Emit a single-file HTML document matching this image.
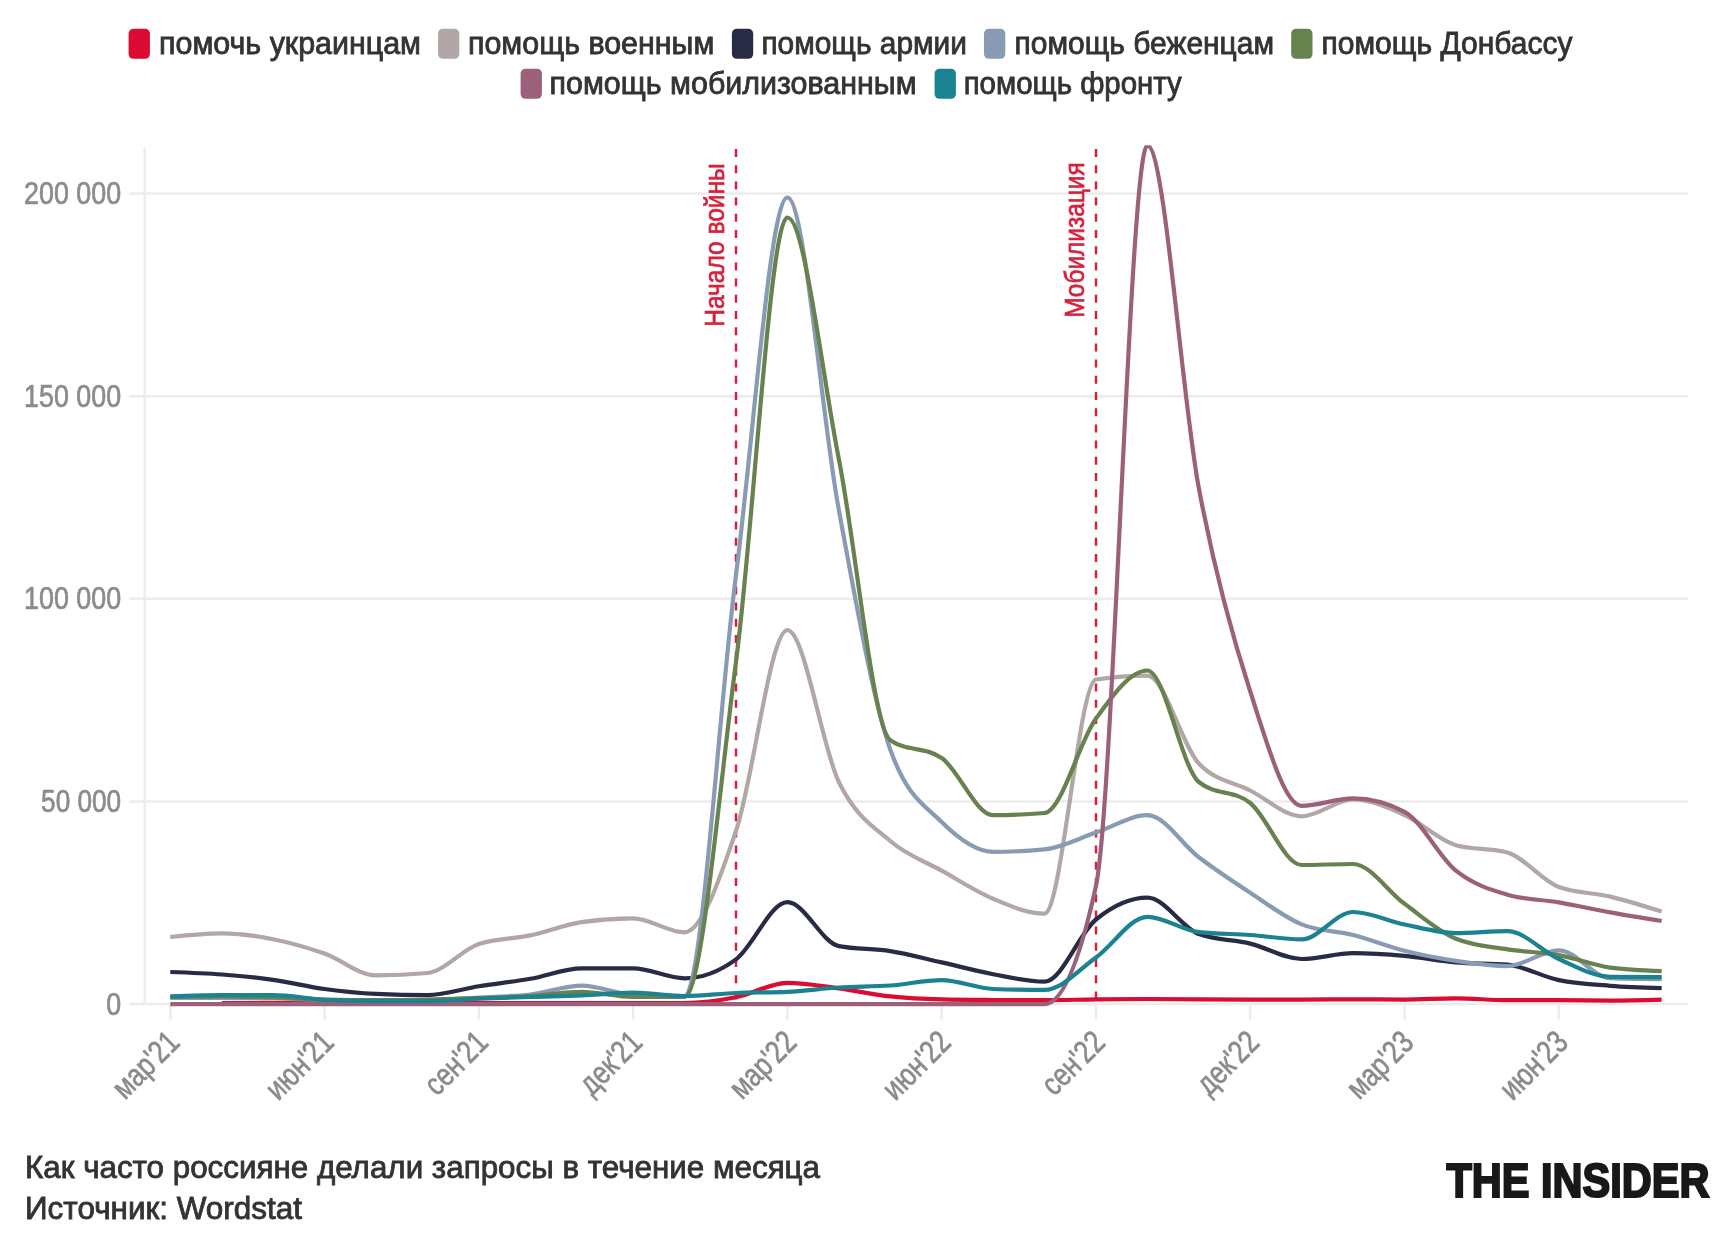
<!DOCTYPE html>
<html lang="ru"><head><meta charset="utf-8"><title>The Insider — Wordstat</title>
<style>html,body{margin:0;padding:0;background:#fff}svg{display:block;will-change:transform}text{font-family:'Liberation Sans', sans-serif}</style>
</head><body>
<svg width="1732" height="1251" viewBox="0 0 1732 1251">
<rect width="1732" height="1251" fill="#fff"/>
<defs><clipPath id="plot"><rect x="140" y="145.3" width="1560" height="866.7"/></clipPath></defs>
<g id="legend">
<rect x="128.6" y="28.8" width="21.3" height="30" rx="4.8" ry="4.8" fill="#dc0b33"/>
<text x="159" y="54.3" font-size="32" fill="#333333" stroke="#333" stroke-width="0.85" textLength="262" lengthAdjust="spacingAndGlyphs">помочь украинцам</text>
<rect x="438" y="28.8" width="21.3" height="30" rx="4.8" ry="4.8" fill="#b1a7a6"/>
<text x="468" y="54.3" font-size="32" fill="#333333" stroke="#333" stroke-width="0.85" textLength="246.3" lengthAdjust="spacingAndGlyphs">помощь военным</text>
<rect x="731.9" y="28.8" width="21.3" height="30" rx="4.8" ry="4.8" fill="#282b44"/>
<text x="761.4" y="54.3" font-size="32" fill="#333333" stroke="#333" stroke-width="0.85" textLength="205.6" lengthAdjust="spacingAndGlyphs">помощь армии</text>
<rect x="984" y="28.8" width="21.3" height="30" rx="4.8" ry="4.8" fill="#899bb4"/>
<text x="1014.5" y="54.3" font-size="32" fill="#333333" stroke="#333" stroke-width="0.85" textLength="259.5" lengthAdjust="spacingAndGlyphs">помощь беженцам</text>
<rect x="1291.2" y="28.8" width="21.3" height="30" rx="4.8" ry="4.8" fill="#67824f"/>
<text x="1321.5" y="54.3" font-size="32" fill="#333333" stroke="#333" stroke-width="0.85" textLength="251" lengthAdjust="spacingAndGlyphs">помощь Донбассу</text>
<rect x="520.6" y="68.8" width="21.3" height="30" rx="4.8" ry="4.8" fill="#9c617a"/>
<text x="549.6" y="94.3" font-size="32" fill="#333333" stroke="#333" stroke-width="0.85" textLength="367" lengthAdjust="spacingAndGlyphs">помощь мобилизованным</text>
<rect x="934.6" y="68.8" width="21.3" height="30" rx="4.8" ry="4.8" fill="#1b8291"/>
<text x="963.7" y="94.3" font-size="32" fill="#333333" stroke="#333" stroke-width="0.85" textLength="218.1" lengthAdjust="spacingAndGlyphs">помощь фронту</text>
</g>
<g id="grid" stroke="#ececec" stroke-width="2.5" fill="none">
<line x1="129" y1="1004.0" x2="1688" y2="1004.0"/>
<line x1="129" y1="801.4" x2="1688" y2="801.4"/>
<line x1="129" y1="598.8" x2="1688" y2="598.8"/>
<line x1="129" y1="396.2" x2="1688" y2="396.2"/>
<line x1="129" y1="193.6" x2="1688" y2="193.6"/>
<line x1="144.7" y1="148" x2="144.7" y2="1005.0"/>
<line x1="170.3" y1="1004.0" x2="170.3" y2="1019.5"/>
<line x1="324.6" y1="1004.0" x2="324.6" y2="1019.5"/>
<line x1="478.9" y1="1004.0" x2="478.9" y2="1019.5"/>
<line x1="633.1" y1="1004.0" x2="633.1" y2="1019.5"/>
<line x1="787.4" y1="1004.0" x2="787.4" y2="1019.5"/>
<line x1="941.7" y1="1004.0" x2="941.7" y2="1019.5"/>
<line x1="1096.0" y1="1004.0" x2="1096.0" y2="1019.5"/>
<line x1="1250.2" y1="1004.0" x2="1250.2" y2="1019.5"/>
<line x1="1404.5" y1="1004.0" x2="1404.5" y2="1019.5"/>
<line x1="1558.8" y1="1004.0" x2="1558.8" y2="1019.5"/>
</g>
<g id="ylabels" font-size="32" fill="#8b8b8b" stroke="#8b8b8b" stroke-width="0.7" text-anchor="end">
<text x="121.1" y="1014.5" textLength="14.9" lengthAdjust="spacingAndGlyphs">0</text>
<text x="121.1" y="811.9" textLength="80.0" lengthAdjust="spacingAndGlyphs">50 000</text>
<text x="121.1" y="609.3" textLength="97.0" lengthAdjust="spacingAndGlyphs">100 000</text>
<text x="121.1" y="406.7" textLength="97.0" lengthAdjust="spacingAndGlyphs">150 000</text>
<text x="121.1" y="204.1" textLength="97.0" lengthAdjust="spacingAndGlyphs">200 000</text>
</g>
<g id="xlabels" font-size="32" fill="#8b8b8b" stroke="#8b8b8b" stroke-width="0.7" text-anchor="end">
<text transform="translate(181.2,1044.3) rotate(-45)" textLength="79.4685" lengthAdjust="spacingAndGlyphs">мар'21</text>
<text transform="translate(335.5,1044.3) rotate(-45)" textLength="81.0316" lengthAdjust="spacingAndGlyphs">июн'21</text>
<text transform="translate(489.8,1044.3) rotate(-45)" textLength="74.5666" lengthAdjust="spacingAndGlyphs">сен'21</text>
<text transform="translate(644.0,1044.3) rotate(-45)" textLength="73.7663" lengthAdjust="spacingAndGlyphs">дек'21</text>
<text transform="translate(798.3,1044.3) rotate(-45)" textLength="79.4685" lengthAdjust="spacingAndGlyphs">мар'22</text>
<text transform="translate(952.6,1044.3) rotate(-45)" textLength="81.0316" lengthAdjust="spacingAndGlyphs">июн'22</text>
<text transform="translate(1106.9,1044.3) rotate(-45)" textLength="74.5666" lengthAdjust="spacingAndGlyphs">сен'22</text>
<text transform="translate(1261.1,1044.3) rotate(-45)" textLength="73.7663" lengthAdjust="spacingAndGlyphs">дек'22</text>
<text transform="translate(1415.4,1044.3) rotate(-45)" textLength="79.4685" lengthAdjust="spacingAndGlyphs">мар'23</text>
<text transform="translate(1569.7,1044.3) rotate(-45)" textLength="81.0316" lengthAdjust="spacingAndGlyphs">июн'23</text>
</g>
<g id="annotations">
<line x1="736.0" y1="149" x2="736.0" y2="1004.0" stroke="#d7213c" stroke-width="2.5" stroke-dasharray="8 8.2"/>
<text transform="translate(723.5,326.8) rotate(-90)" font-size="28.5" fill="#d7213c" stroke="#d7213c" stroke-width="0.7" textLength="163.5" lengthAdjust="spacingAndGlyphs">Начало войны</text>
<line x1="1096.0" y1="149" x2="1096.0" y2="1004.0" stroke="#d7213c" stroke-width="2.5" stroke-dasharray="8 8.2"/>
<text transform="translate(1083.5,317.8) rotate(-90)" font-size="28.5" fill="#d7213c" stroke="#d7213c" stroke-width="0.7" textLength="155.5" lengthAdjust="spacingAndGlyphs">Мобилизация</text>
</g>
<g id="lines" fill="none" stroke-width="4.2" stroke-linejoin="round" stroke-linecap="butt" clip-path="url(#plot)">
<path stroke="#dc0b33" d="M221.73,1003.20C238.87,1003.20,256.01,1003.20,273.15,1003.20C290.29,1003.20,307.44,1003.20,324.58,1003.20C341.72,1003.20,358.86,1003.20,376.00,1003.20C393.15,1003.20,410.29,1003.20,427.43,1003.20C444.57,1003.20,461.71,1003.20,478.86,1003.20C496.00,1003.20,513.14,1003.20,530.28,1003.20C547.42,1003.20,564.57,1003.20,581.71,1003.20C598.85,1003.20,615.99,1003.20,633.13,1003.20C650.28,1003.20,667.42,1003.13,684.56,1003.00C701.70,1002.87,718.84,1000.65,735.99,997.30C753.13,993.95,770.27,982.90,787.41,982.90C804.55,982.90,821.70,986.15,838.84,988.40C855.98,990.65,873.12,994.57,890.26,996.40C907.41,998.23,924.55,999.00,941.69,999.40C958.83,999.80,975.97,999.87,993.12,1000.00C1010.26,1000.13,1027.40,1000.20,1044.54,1000.20C1061.68,1000.20,1078.83,999.60,1095.97,999.40C1113.11,999.20,1130.25,999.00,1147.39,999.00C1164.54,999.00,1181.68,999.20,1198.82,999.30C1215.96,999.40,1233.10,999.60,1250.25,999.60C1267.39,999.60,1284.53,999.60,1301.67,999.60C1318.81,999.60,1335.96,999.30,1353.10,999.30C1370.24,999.30,1387.38,999.60,1404.52,999.60C1421.67,999.60,1438.81,998.30,1455.95,998.30C1473.09,998.30,1490.23,1000.20,1507.38,1000.20C1524.52,1000.20,1541.66,1000.20,1558.80,1000.20C1575.94,1000.20,1593.09,1000.60,1610.23,1000.60C1627.37,1000.60,1644.51,1000.10,1661.65,999.60"/>
<path stroke="#b1a7a6" d="M170.30,937.00C187.44,935.15,204.58,933.30,221.73,933.30C238.87,933.30,256.01,935.82,273.15,939.20C290.29,942.58,307.44,947.57,324.58,953.60C341.72,959.63,358.86,975.40,376.00,975.40C393.15,975.40,410.29,974.60,427.43,973.00C444.57,971.40,461.71,949.73,478.86,944.00C496.00,938.27,513.14,939.05,530.28,935.40C547.42,931.75,564.57,924.57,581.71,922.10C598.85,919.63,615.99,918.40,633.13,918.40C650.28,918.40,667.42,932.30,684.56,932.30C701.70,932.30,718.84,881.35,735.99,831.00C753.13,780.65,770.27,630.20,787.41,630.20C804.55,630.20,821.70,746.87,838.84,782.00C855.98,817.13,873.12,826.22,890.26,841.00C907.41,855.78,924.55,861.07,941.69,870.70C958.83,880.33,975.97,891.65,993.12,898.80C1010.26,905.95,1027.40,913.60,1044.54,913.60C1061.68,913.60,1078.83,682.10,1095.97,679.50C1113.11,676.90,1130.25,675.60,1147.39,675.60C1164.54,675.60,1181.68,745.50,1198.82,763.50C1215.96,781.50,1233.10,781.70,1250.25,790.50C1267.39,799.30,1284.53,816.30,1301.67,816.30C1318.81,816.30,1335.96,799.50,1353.10,799.50C1370.24,799.50,1387.38,807.38,1404.52,815.00C1421.67,822.62,1438.81,840.33,1455.95,845.20C1473.09,850.07,1490.23,847.63,1507.38,852.50C1524.52,857.37,1541.66,880.60,1558.80,887.00C1575.94,893.40,1593.09,892.50,1610.23,896.60C1627.37,900.70,1644.51,906.15,1661.65,911.60"/>
<path stroke="#282b44" d="M170.30,972.00C187.44,972.60,204.58,973.20,221.73,974.50C238.87,975.80,256.01,977.38,273.15,979.80C290.29,982.22,307.44,986.65,324.58,989.00C341.72,991.35,358.86,993.10,376.00,993.90C393.15,994.70,410.29,995.10,427.43,995.10C444.57,995.10,461.71,989.02,478.86,986.30C496.00,983.58,513.14,981.80,530.28,978.80C547.42,975.80,564.57,968.30,581.71,968.30C598.85,968.30,615.99,968.30,633.13,968.30C650.28,968.30,667.42,978.30,684.56,978.30C701.70,978.30,718.84,972.00,735.99,959.40C753.13,946.80,770.27,902.20,787.41,902.20C804.55,902.20,821.70,942.77,838.84,946.10C855.98,949.43,873.12,948.38,890.26,951.10C907.41,953.82,924.55,958.55,941.69,962.40C958.83,966.25,975.97,971.00,993.12,974.20C1010.26,977.40,1027.40,981.60,1044.54,981.60C1061.68,981.60,1078.83,933.50,1095.97,919.50C1113.11,905.50,1130.25,897.60,1147.39,897.60C1164.54,897.60,1181.68,927.60,1198.82,934.00C1215.96,940.40,1233.10,939.43,1250.25,943.60C1267.39,947.77,1284.53,959.00,1301.67,959.00C1318.81,959.00,1335.96,953.20,1353.10,953.20C1370.24,953.20,1387.38,954.37,1404.52,955.90C1421.67,957.43,1438.81,960.93,1455.95,962.40C1473.09,963.87,1490.23,963.17,1507.38,964.70C1524.52,966.23,1541.66,976.58,1558.80,980.10C1575.94,983.62,1593.09,984.47,1610.23,985.80C1627.37,987.13,1644.51,987.62,1661.65,988.10"/>
<path stroke="#899bb4" d="M170.30,998.00C187.44,998.00,204.58,998.00,221.73,998.00C238.87,998.00,256.01,998.17,273.15,998.50C290.29,998.83,307.44,999.67,324.58,1000.00C341.72,1000.33,358.86,1000.50,376.00,1000.50C393.15,1000.50,410.29,1000.33,427.43,1000.00C444.57,999.67,461.71,998.42,478.86,997.50C496.00,996.58,513.14,996.47,530.28,994.50C547.42,992.53,564.57,985.70,581.71,985.70C598.85,985.70,615.99,994.07,633.13,995.00C650.28,995.93,667.42,996.40,684.56,996.40C701.70,996.40,718.84,708.15,735.99,575.00C753.13,441.85,770.27,197.50,787.41,197.50C804.55,197.50,821.70,418.00,838.84,510.00C855.98,602.00,873.12,701.17,890.26,749.50C907.41,797.83,924.55,804.95,941.69,822.00C958.83,839.05,975.97,851.80,993.12,851.80C1010.26,851.80,1027.40,851.00,1044.54,849.40C1061.68,847.80,1078.83,838.30,1095.97,832.60C1113.11,826.90,1130.25,815.20,1147.39,815.20C1164.54,815.20,1181.68,844.37,1198.82,857.30C1215.96,870.23,1233.10,881.62,1250.25,892.80C1267.39,903.98,1284.53,917.37,1301.67,924.40C1318.81,931.43,1335.96,930.60,1353.10,935.00C1370.24,939.40,1387.38,946.48,1404.52,950.80C1421.67,955.12,1438.81,958.35,1455.95,960.90C1473.09,963.45,1490.23,966.10,1507.38,966.10C1524.52,966.10,1541.66,950.30,1558.80,950.30C1575.94,950.30,1593.09,977.60,1610.23,978.20C1627.37,978.80,1644.51,978.95,1661.65,979.10"/>
<path stroke="#67824f" d="M170.30,997.00C187.44,996.75,204.58,996.50,221.73,996.50C238.87,996.50,256.01,997.00,273.15,997.50C290.29,998.00,307.44,999.17,324.58,999.50C341.72,999.83,358.86,1000.00,376.00,1000.00C393.15,1000.00,410.29,999.80,427.43,999.50C444.57,999.20,461.71,998.78,478.86,998.20C496.00,997.62,513.14,997.07,530.28,996.00C547.42,994.93,564.57,991.80,581.71,991.80C598.85,991.80,615.99,996.80,633.13,996.80C650.28,996.80,667.42,996.80,684.56,996.80C701.70,996.80,718.84,791.88,735.99,662.00C753.13,532.12,770.27,217.50,787.41,217.50C804.55,217.50,821.70,371.88,838.84,459.00C855.98,546.12,873.12,728.33,890.26,740.20C907.41,752.07,924.55,746.13,941.69,758.00C958.83,769.87,975.97,815.20,993.12,815.20C1010.26,815.20,1027.40,814.47,1044.54,813.00C1061.68,811.53,1078.83,742.35,1095.97,718.60C1113.11,694.85,1130.25,670.50,1147.39,670.50C1164.54,670.50,1181.68,768.00,1198.82,782.00C1215.96,796.00,1233.10,789.17,1250.25,803.00C1267.39,816.83,1284.53,865.00,1301.67,865.00C1318.81,865.00,1335.96,864.00,1353.10,864.00C1370.24,864.00,1387.38,891.33,1404.52,903.80C1421.67,916.27,1438.81,931.73,1455.95,938.80C1473.09,945.87,1490.23,946.68,1507.38,949.40C1524.52,952.12,1541.66,952.07,1558.80,955.10C1575.94,958.13,1593.09,965.27,1610.23,967.60C1627.37,969.93,1644.51,970.52,1661.65,971.10"/>
<path stroke="#9c617a" d="M170.30,1004.15C187.44,1004.15,204.58,1004.15,221.73,1004.15C238.87,1004.15,256.01,1004.15,273.15,1004.15C290.29,1004.15,307.44,1004.15,324.58,1004.15C341.72,1004.15,358.86,1004.15,376.00,1004.15C393.15,1004.15,410.29,1004.15,427.43,1004.15C444.57,1004.15,461.71,1004.15,478.86,1004.15C496.00,1004.15,513.14,1004.15,530.28,1004.15C547.42,1004.15,564.57,1004.15,581.71,1004.15C598.85,1004.15,615.99,1004.15,633.13,1004.15C650.28,1004.15,667.42,1004.15,684.56,1004.15C701.70,1004.15,718.84,1004.15,735.99,1004.15C753.13,1004.15,770.27,1004.15,787.41,1004.15C804.55,1004.15,821.70,1004.15,838.84,1004.15C855.98,1004.15,873.12,1004.15,890.26,1004.15C907.41,1004.15,924.55,1004.15,941.69,1004.15C958.83,1004.15,975.97,1004.15,993.12,1004.15C1010.26,1004.15,1027.40,1004.15,1044.54,1004.15C1061.68,1004.15,1078.83,964.77,1095.97,886.00C1113.11,807.23,1130.25,145.40,1147.39,145.40C1164.54,145.40,1181.68,396.98,1198.82,488.00C1215.96,579.02,1233.10,638.53,1250.25,691.50C1267.39,744.47,1284.53,805.80,1301.67,805.80C1318.81,805.80,1335.96,798.40,1353.10,798.40C1370.24,798.40,1387.38,802.87,1404.52,811.80C1421.67,820.73,1438.81,856.88,1455.95,870.70C1473.09,884.52,1490.23,889.57,1507.38,894.70C1524.52,899.83,1541.66,899.45,1558.80,902.40C1575.94,905.35,1593.09,909.30,1610.23,912.40C1627.37,915.50,1644.51,918.25,1661.65,921.00"/>
<path stroke="#1b8291" d="M170.30,996.40C187.44,995.80,204.58,995.20,221.73,995.20C238.87,995.20,256.01,995.20,273.15,995.20C290.29,995.20,307.44,998.87,324.58,999.80C341.72,1000.73,358.86,1001.20,376.00,1001.20C393.15,1001.20,410.29,1001.20,427.43,1001.20C444.57,1001.20,461.71,999.43,478.86,998.70C496.00,997.97,513.14,997.33,530.28,996.80C547.42,996.27,564.57,996.18,581.71,995.50C598.85,994.82,615.99,992.70,633.13,992.70C650.28,992.70,667.42,996.00,684.56,996.00C701.70,996.00,718.84,993.70,735.99,993.00C753.13,992.30,770.27,992.60,787.41,991.80C804.55,991.00,821.70,988.55,838.84,987.50C855.98,986.45,873.12,986.73,890.26,985.50C907.41,984.27,924.55,980.10,941.69,980.10C958.83,980.10,975.97,988.40,993.12,989.00C1010.26,989.60,1027.40,989.90,1044.54,989.90C1061.68,989.90,1078.83,969.68,1095.97,957.50C1113.11,945.32,1130.25,916.80,1147.39,916.80C1164.54,916.80,1181.68,930.17,1198.82,932.10C1215.96,934.03,1233.10,933.78,1250.25,935.00C1267.39,936.22,1284.53,939.40,1301.67,939.40C1318.81,939.40,1335.96,912.00,1353.10,912.00C1370.24,912.00,1387.38,920.98,1404.52,924.50C1421.67,928.02,1438.81,933.10,1455.95,933.10C1473.09,933.10,1490.23,931.20,1507.38,931.20C1524.52,931.20,1541.66,951.40,1558.80,959.00C1575.94,966.60,1593.09,976.53,1610.23,976.80C1627.37,977.07,1644.51,977.13,1661.65,977.20"/>
</g>
<g id="footer" font-size="32" fill="#333333" stroke="#333333" stroke-width="0.85">
<text x="25" y="1177.8" textLength="795" lengthAdjust="spacingAndGlyphs">Как часто россияне делали запросы в течение месяца</text>
<text x="25" y="1219" textLength="277" lengthAdjust="spacingAndGlyphs">Источник: Wordstat</text>
</g>
<text id="logo" x="1446.4" y="1197.3" font-size="48.5" font-weight="bold" fill="#181818" stroke="#181818" stroke-width="2.2" stroke-linejoin="miter" textLength="263" lengthAdjust="spacingAndGlyphs">THE INSIDER</text>
</svg>
</body></html>
